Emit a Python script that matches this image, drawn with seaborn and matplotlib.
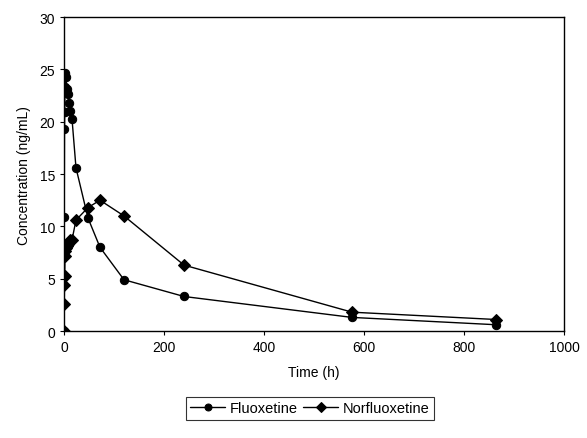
import matplotlib
matplotlib.use("Agg")
import matplotlib.pyplot as plt
import seaborn as sns
import pandas as pd

time_h = [0, 0.5, 1, 1.5, 2, 3, 4, 6, 8, 10, 12, 16, 24, 48, 72, 120, 240, 576, 864]
fluoxetine = [0, 10.9, 19.3, 20.9, 23.3, 24.7, 24.3, 23.1, 22.7, 21.8, 21.0, 20.3,
              15.6, 10.8, 8.0, 4.9, 3.3, 1.3, 0.6]
norfluoxetine = [0, 2.6, 4.4, 5.3, 7.2, 7.6, 7.9, 8.1, 8.3, 8.5, 8.7, 8.7,
                 10.6, 11.8, 12.5, 11.0, 6.3, 1.8, 1.1]
series_names = ["Fluoxetine", "Norfluoxetine"]
x_ticks = [0, 200, 400, 600, 800, 1000]
y_ticks = [0, 5, 10, 15, 20, 25, 30]

df = pd.concat([
    pd.DataFrame({"Time": time_h, "Conc": fluoxetine, "Compound": series_names[0]}),
    pd.DataFrame({"Time": time_h, "Conc": norfluoxetine, "Compound": series_names[1]}),
])

sns.set_style("ticks")
plt.rcParams["font.family"] = ["Liberation Sans", "DejaVu Sans"]
plt.rcParams["text.color"] = "black"
plt.rcParams["axes.labelcolor"] = "black"
plt.rcParams["xtick.color"] = "black"
plt.rcParams["ytick.color"] = "black"

fig = plt.figure(figsize=(5.87, 4.39), dpi=100)
ax = fig.add_axes([0.109, 0.2437, 0.852, 0.715])

sns.lineplot(data=df, x="Time", y="Conc", hue="Compound", style="Compound",
             markers={"Fluoxetine": "o", "Norfluoxetine": "D"}, dashes=False,
             palette={"Fluoxetine": "black", "Norfluoxetine": "black"},
             markersize=6, markeredgecolor="black", linewidth=1.0,
             estimator=None, sort=False, ax=ax, legend=True)

ax.set_xlim(0, 1000)
ax.set_ylim(0, 30)
ax.set_xticks(x_ticks)
ax.set_yticks(y_ticks)
ax.tick_params(labelsize=10, length=3, width=0.8, colors="black", direction="out")
ax.set_xlabel("Time (h)", fontsize=10, labelpad=8, color="black")
ax.set_ylabel("Concentration (ng/mL)", fontsize=10, labelpad=6, color="black")
for s in ax.spines.values():
    s.set_visible(True)
    s.set_color("black")
    s.set_linewidth(1.0)

handles, labels = ax.get_legend_handles_labels()
ax.get_legend().remove()
for h in handles:
    h.set_color("black")
    h.set_markerfacecolor("black")
    h.set_markersize(5)
leg = fig.legend(handles, labels, loc="center", bbox_to_anchor=(0.528, 0.068),
                 ncol=2, frameon=True, fancybox=False, edgecolor="black",
                 fontsize=10.5, handlelength=2.4, columnspacing=0.4,
                 handletextpad=0.3, borderpad=0.3)
leg.get_frame().set_linewidth(0.8)

fig.savefig("out.png", dpi=100)
